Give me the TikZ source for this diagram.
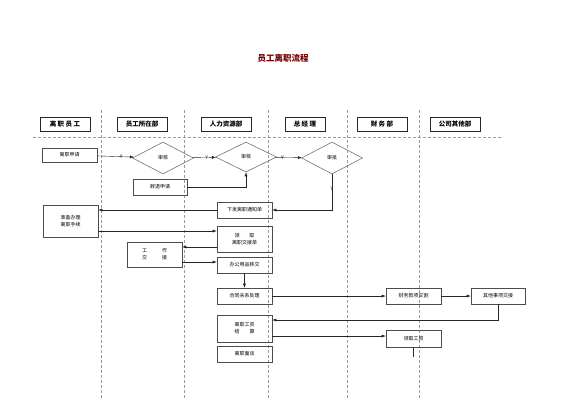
\documentclass[tikz,border=0pt]{standalone}
\usepackage{fontspec}
\setmainfont{Noto Sans CJK SC}
\usepackage{tikz}
\usetikzlibrary{arrows.meta, positioning, shapes.geometric, calc}

\begin{document}
\begin{tikzpicture}[
  x=1pt, y=-1pt,
  >=Latex,
  font=\fontsize{5}{7}\selectfont,
  box/.style={
    rectangle, draw=black!70, semithick, align=center,
    inner sep=1pt, minimum width=55pt, minimum height=16pt,
  },
  head/.style={box, draw=black!85, minimum width=50pt, minimum height=14pt, font=\fontsize{6.5}{8}\selectfont\bfseries},
  check/.style={diamond, draw=black!55, semithick, inner sep=0pt, minimum width=61pt, minimum height=32pt},
  lane/.style={black!40, densely dashed, very thin},
  flow/.style={->, black!85, thin, >={Latex[length=4pt,width=3pt]}},
  yes/.style={font=\fontsize{5}{6}\selectfont, inner sep=1pt},
]
\useasboundingbox (0,0) rectangle (565,400);

% --- Title ---
\node[text=red!45!black, font=\fontsize{8.5}{10}\selectfont\bfseries] (TITLE) at (283,58) {员工离职流程};

% --- Lanes ---
\foreach \lx in {101,184,268,347,419} {
  \draw[lane] (\lx,110) -- (\lx,400);
}
\draw[lane] (33,137) -- (503,137);

\node[head] (H1) at (65,124) {离 职 员 工};
\node[head] (H2) at (142,124) {员工所在部};
\node[head] (H3) at (226,124) {人力资源部};
\node[head, minimum width=40pt] (H4) at (305,124) {总 经 理};
\node[head] (H5) at (382,124) {财 务 部};
\node[head] (H6) at (455,124) {公司其他部};

% --- Application / approval ---
\node[box, minimum height=14pt] (APPLY) at (69.5,155) {离职申请};
\node[check] (CHK1) at (163,158) {审核};
\node[box, minimum width=54pt] (DISMISS) at (160,187) {辞退申请};
\node[check, minimum height=30pt] (CHK2) at (246,157) {审核};
\node[check] (CHK3) at (332,158) {审批};

% --- Handover ---
\node[box] (NOTICE) at (244.5,210) {下发离职通知单};
\node[box, minimum height=32pt] (PREP) at (70.5,221) {准备办理\\离职手续};
\node[box, minimum height=26pt] (FORM) at (244.5,239) {领\hspace{2em}取\\离职交接单};
\node[box, minimum height=25pt] (WORK) at (154.5,254.5) {工\hspace{3em}作\\交\hspace{3em}接};
\node[box] (OFFICE) at (244.5,265) {办公用品移交};

% --- Settlement ---
\node[box] (CONTRACT) at (244.5,296) {合同关系处理};
\node[box] (FIN) at (413.5,296) {财务款项交割};
\node[box, minimum width=54pt] (OTHER) at (498,296) {其他事项交接};
\node[box, minimum height=27pt] (SALARY) at (244.5,328.5) {离职工资\\结\hspace{2em}算};
\node[box, minimum height=17pt] (PAY) at (413.5,338.5) {领取工资};
\node[box] (TALK) at (244.5,354) {离职面谈};
\coordinate (PAYEND) at (413.5,357);

% --- Arrows ---
\draw[flow] (APPLY) -- node[yes, pos=0.65] {Y} (CHK1);
\draw[flow] (CHK1) -- node[yes, pos=0.6] {Y} (CHK2);
\draw[flow] (DISMISS.east) -| (CHK2.south);
\draw[flow] (CHK2) -- node[yes, pos=0.25] {Y} (CHK3);
\draw[flow] (CHK3.south) -- node[yes, pos=0.4] {Y} (CHK3.south |- NOTICE.east) -- (NOTICE.east);

\draw[flow] (NOTICE.west) -- (NOTICE.west -| PREP.east);
\draw[flow] ([yshift=-10pt]PREP.east) -- ([yshift=-10pt]PREP.east -| FORM.west);
\draw[flow] ([yshift=-8pt]FORM.west) -- ([yshift=-8pt]FORM.west -| WORK.east);
\draw[flow] ([yshift=-7.5pt]WORK.east) -- ([yshift=-7.5pt]WORK.east -| OFFICE.west);
\draw[flow] (OFFICE) -- (CONTRACT);

\draw[flow] (CONTRACT) -- (FIN);
\draw[flow] (FIN) -- (OTHER);
\draw[flow] (OTHER.south) |- ([yshift=8.5pt]SALARY.east);
\draw[flow] ([yshift=-7.5pt]SALARY.east) -- ([yshift=-7.5pt]SALARY.east -| PAY.west);
\draw[black!85, thin] (PAY.south) -- (PAYEND);

\end{tikzpicture}
\end{document}
